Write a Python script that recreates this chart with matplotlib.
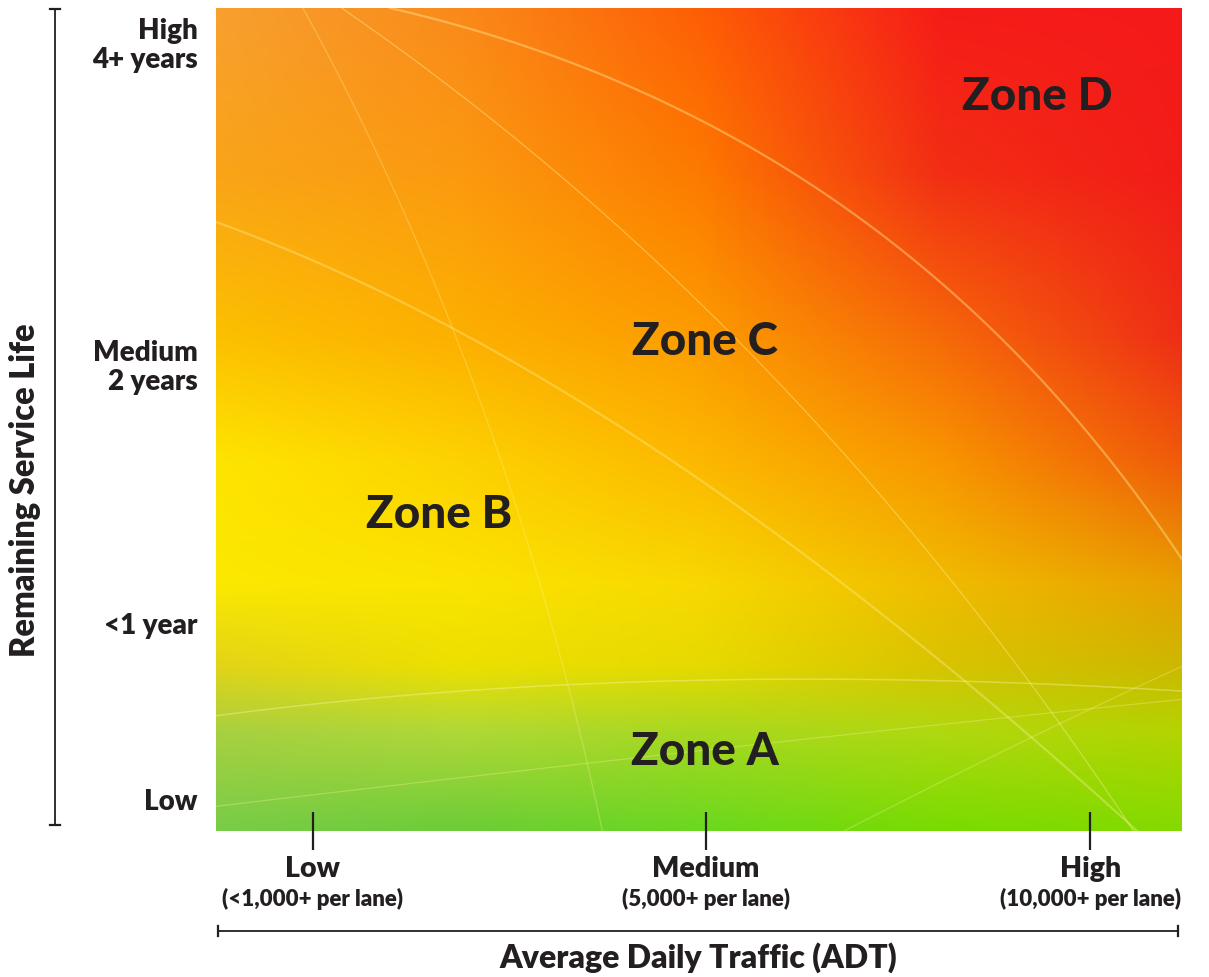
import numpy as np
import matplotlib
matplotlib.use("Agg")
import matplotlib.pyplot as plt
from matplotlib.colors import to_rgb
from matplotlib.lines import Line2D

plt.rcParams["font.family"] = ["Lato", "DejaVu Sans"]
INK = "#231f20"

# axis categories and where they sit on the 0..1 axes
x_labels = ["Low", "Medium", "High"]
x_sub = ["(<1,000+ per lane)", "(5,000+ per lane)", "(10,000+ per lane)"]
x_pos = [0.100, 0.507, 0.905]

y_labels = ["Low", "<1 year", "Medium\n2 years", "High\n4+ years"]
y_pos = [0.040, 0.253, 0.569, 0.960]

# zone names and their centres
zones = ["Zone A", "Zone B", "Zone C", "Zone D"]
zone_x = [0.506, 0.231, 0.506, 0.850]
zone_y = [0.097, 0.385, 0.595, 0.893]

# background colour samples (rows bottom -> top, columns left -> right)
grid_u = [0, 0.25, 0.5, 0.75, 1]
grid_v = [0, 0.12, 0.2, 0.3, 0.45, 0.6, 0.8, 1]
grid_colors = [
    ["#78cc48", "#6ccc38", "#6ad820", "#78dc00", "#84da00"],
    ["#a8d040", "#b0d838", "#a8d820", "#b0d810", "#b4d400"],
    ["#e2d418", "#ece000", "#e6da00", "#d8c400", "#ccb800"],
    ["#fbe800", "#fbe400", "#f8d800", "#f0bc00", "#e8a000"],
    ["#fee400", "#fdd200", "#fcb800", "#f89600", "#f05a0a"],
    ["#fcc000", "#fdb000", "#fc9c00", "#f66a08", "#ee2e16"],
    ["#f9a418", "#fb9a10", "#fd7a00", "#f22e14", "#f21c18"],
    ["#f7a030", "#fa8a1a", "#fe5e05", "#f61c18", "#f51a1a"],
]

fig = plt.figure(figsize=(12.09, 9.78), dpi=100)
ax = fig.add_axes([216 / 1209, 1 - 832 / 978, 966 / 1209, 823 / 978])
ax.set_xlim(0, 1)
ax.set_ylim(0, 1)

# bilinear upsample of the colour samples
samples = np.array([[to_rgb(c) for c in row] for row in grid_colors])
uu = np.linspace(0, 1, 500)
vv = np.linspace(0, 1, 420)
tmp = np.stack([np.stack([np.interp(uu, grid_u, samples[i, :, k]) for k in range(3)], -1)
                for i in range(len(grid_v))])
rgb = np.stack([np.stack([np.interp(vv, grid_v, tmp[:, j, k]) for k in range(3)], -1)
                for j in range(len(uu))], 1)
ax.imshow(rgb, origin="lower", extent=[0, 1, 0, 1], aspect="auto",
          interpolation="bilinear", zorder=0)

# faint light streaks over the background
def streak(p0, p1, p2, lw=1.2, alpha=0.35, color="#fff3a0"):
    tt = np.linspace(0, 1, 200)[:, None]
    pts = (1 - tt) ** 2 * np.array(p0) + 2 * (1 - tt) * tt * np.array(p1) + tt ** 2 * np.array(p2)
    ax.plot(pts[:, 0], pts[:, 1], color=color, lw=lw, alpha=alpha, zorder=1)

streak((0.18, 1.0), (0.70, 0.86), (1.0, 0.33), lw=1.6, alpha=0.4)
streak((0.0, 0.74), (0.45, 0.55), (1.0, -0.05), lw=1.6, alpha=0.35)
streak((0.13, 1.0), (0.60, 0.62), (0.95, 0.0), lw=0.9, alpha=0.4)
streak((0.09, 1.0), (0.30, 0.55), (0.40, 0.0), lw=0.9, alpha=0.3)
streak((0.0, 0.14), (0.45, 0.21), (1.0, 0.17), lw=1.1, alpha=0.4)
streak((0.0, 0.03), (0.50, 0.10), (1.0, 0.16), lw=0.9, alpha=0.3)
streak((0.65, 0.0), (0.85, 0.12), (1.0, 0.20), lw=0.9, alpha=0.3)

for name, zx, zy in zip(zones, zone_x, zone_y):
    ax.text(zx, zy, name, ha="center", va="center", fontsize=33,
            fontweight="black", color=INK, zorder=3)

for sp in ax.spines.values():
    sp.set_visible(False)

ax.set_xticks(x_pos)
ax.set_xticklabels([])
ax.tick_params(axis="x", direction="inout", length=28, width=1.6, color=INK)
for lab, sub, xp in zip(x_labels, x_sub, x_pos):
    ax.text(xp, -0.045, lab, transform=ax.transAxes, ha="center", va="center",
            fontsize=20.5, fontweight="heavy", color=INK)
    ax.text(xp, -0.081, sub, transform=ax.transAxes, ha="center", va="center",
            fontsize=16, fontweight="heavy", color=INK)

ax.set_yticks(y_pos)
ax.set_yticklabels(y_labels, fontsize=20, fontweight="heavy", color=INK,
                   ha="right", linespacing=1.12)
ax.tick_params(axis="y", length=0, pad=13)

# bracket lines for the axis titles
fx = lambda px: px / 1209
fy = lambda py: 1 - py / 978
fig.add_artist(Line2D([fx(55), fx(55)], [fy(10), fy(826)], color=INK, lw=1.3))
fig.add_artist(Line2D([fx(50), fx(60)], [fy(10), fy(10)], color=INK, lw=1.6))
fig.add_artist(Line2D([fx(50), fx(60)], [fy(826), fy(826)], color=INK, lw=1.6))
fig.add_artist(Line2D([fx(218), fx(1178)], [fy(932), fy(932)], color=INK, lw=1.3))
fig.add_artist(Line2D([fx(218), fx(218)], [fy(927), fy(937)], color=INK, lw=1.6))
fig.add_artist(Line2D([fx(1178), fx(1178)], [fy(927), fy(937)], color=INK, lw=1.6))

fig.text(fx(25), fy(490), "Remaining Service Life", rotation=90, ha="center",
         va="center", fontsize=23.5, fontweight="heavy", color=INK)
fig.text(fx(698), fy(958), "Average Daily Traffic (ADT)", ha="center",
         va="center", fontsize=23, fontweight="heavy", color=INK)

fig.savefig("out.png", dpi=100, facecolor="white")
